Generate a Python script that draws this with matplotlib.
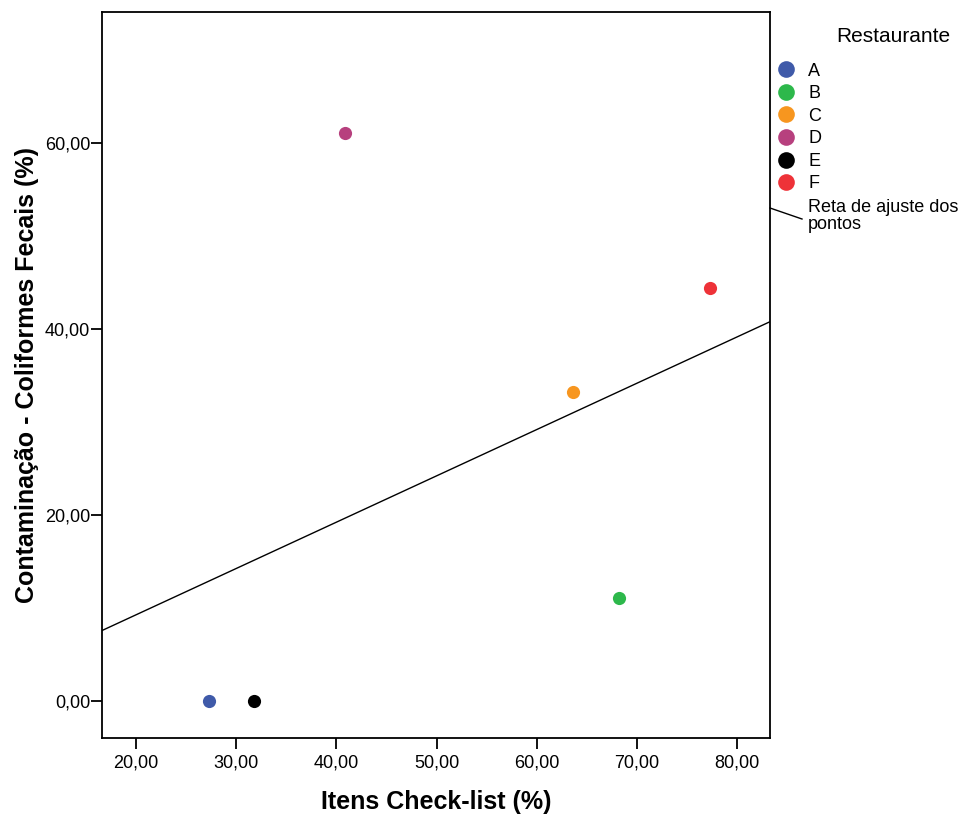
import matplotlib.pyplot as plt
import numpy as np
from matplotlib.lines import Line2D

plt.rcParams['font.family'] = ['Liberation Sans', 'DejaVu Sans']

# Dados
restaurantes = ["A", "B", "C", "D", "E", "F"]
itens_checklist = [27.3, 68.2, 63.6, 40.9, 31.8, 77.3]
coliformes = [0.0, 11.1, 33.3, 61.1, 0.0, 44.4]
cores = ["#3f5aa9", "#2db84b", "#f7961f", "#b7407e", "#000000", "#ee3238"]

x_ticks = [20, 30, 40, 50, 60, 70, 80]
y_ticks = [0, 20, 40, 60]


def fmt(v):
    return f"{v:.2f}".replace(".", ",")


def plot_scatter():
    fig = plt.figure(figsize=(9.63, 8.17), dpi=100)
    ax = fig.add_axes([102 / 963, 79 / 817, 668 / 963, 726 / 817])

    handles = []
    for nome, x, y, c in zip(restaurantes, itens_checklist, coliformes, cores):
        ax.scatter(x, y, s=90, color=c, zorder=3, linewidths=0)
        handles.append(Line2D([], [], marker="o", linestyle="", color=c,
                              markersize=12, markeredgewidth=0, label=nome))

    # reta de ajuste (minimos quadrados)
    xlim = (16.6, 83.3)
    coef = np.polyfit(itens_checklist, coliformes, 1)
    xs = np.array(xlim)
    ax.plot(xs, np.polyval(coef, xs), color="black", lw=1.0, zorder=2)

    ax.set_xlim(*xlim)
    ax.set_ylim(-3.95, 74.1)
    ax.set_xticks(x_ticks)
    ax.set_xticklabels([fmt(v) for v in x_ticks])
    ax.set_yticks(y_ticks)
    ax.set_yticklabels([fmt(v) for v in y_ticks])
    ax.tick_params(direction="out", length=8, width=1.3, labelsize=13)
    ax.tick_params(axis="x", pad=4)
    ax.tick_params(axis="y", pad=0.5)
    for s in ax.spines.values():
        s.set_linewidth(1.3)

    ax.set_xlabel("Itens Check-list (%)", fontsize=18, fontweight="bold", labelpad=13)
    ax.set_ylabel("Contaminação - Coliformes Fecais (%)", fontsize=18,
                  fontweight="bold", labelpad=4)

    # legenda
    fig.text(893 / 963, 1 - 37 / 817, "Restaurante", fontsize=15,
             ha="center", va="center")
    ax.legend(handles=handles, loc="upper left", bbox_to_anchor=(777 / 963, 1 - 62.5 / 817),
              bbox_transform=fig.transFigure, frameon=False, fontsize=13,
              borderaxespad=0, borderpad=0, handlelength=1.0, handletextpad=0.72,
              labelspacing=0.31)
    fig.text(808 / 963, 1 - 216 / 817, "Reta de ajuste dos\npontos", fontsize=13,
             ha="left", va="center", linespacing=0.95)
    fig.add_artist(Line2D([770 / 963, 802 / 963], [1 - 208 / 817, 1 - 219 / 817],
                          color="black", lw=1.0, transform=fig.transFigure))

    fig.savefig("out.png", dpi=100)


if __name__ == "__main__":
    plot_scatter()
